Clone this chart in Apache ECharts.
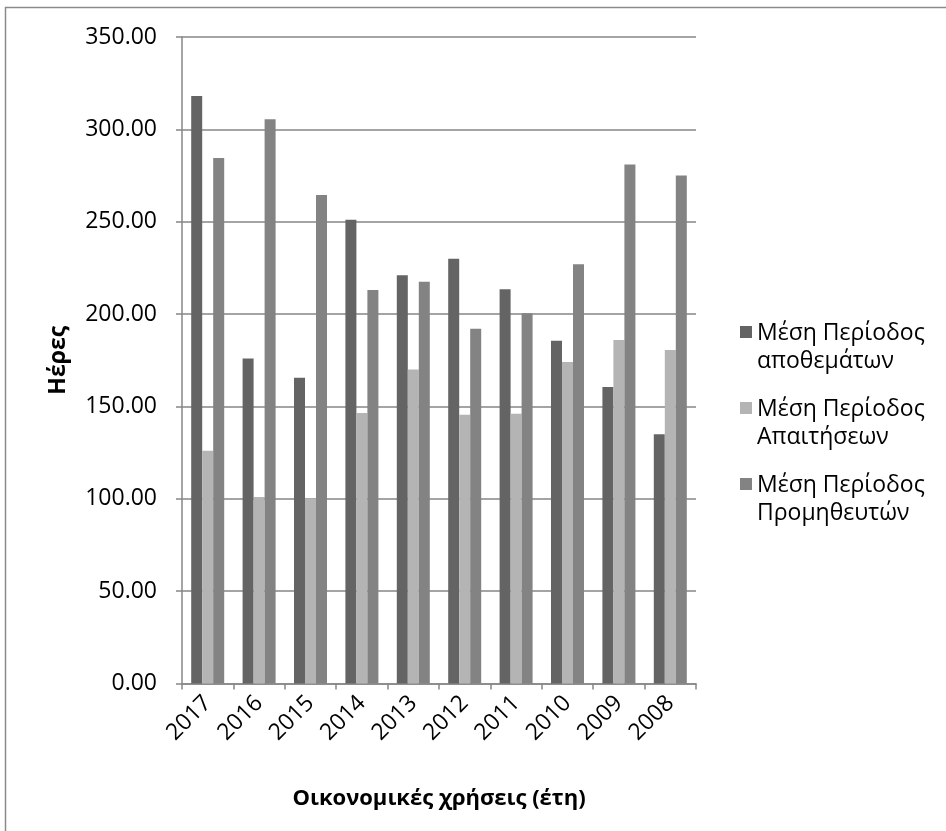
<!DOCTYPE html>
<html>
<head>
<meta charset="utf-8">
<script src="https://cdn.jsdelivr.net/npm/echarts@6/dist/echarts.min.js"></script>
<style>
  html, body { margin: 0; padding: 0; background: #fff; }
  #chart { width: 946px; height: 831px; }
</style>
</head>
<body>
<div id="chart"></div>
<script>
// Fiscal years shown left to right
const years = ['2017', '2016', '2015', '2014', '2013', '2012', '2011', '2010', '2009', '2008'];

// Average periods in days
const inventoryDays   = [318, 176, 165.5, 251, 221, 230, 213.5, 185.5, 160.5, 135];
const receivableDays  = [126, 101, 100, 146.5, 170, 145.5, 146, 174, 186, 180.5];
const payableDays     = [284.5, 305.5, 264.5, 213, 217.5, 192, 200.5, 227, 281, 275];

const seriesNames = [
  'Μέση Περίοδος\nαποθεμάτων',
  'Μέση Περίοδος\nΑπαιτήσεων',
  'Μέση Περίοδος\nΠρομηθευτών'
];
const seriesColors = ['#646464', '#b4b4b4', '#838383'];

const yTicks = { min: 0, max: 350, interval: 50 };

const FONT = '"Open Sans", "DejaVu Sans", sans-serif';
const AXIS_GREY = '#868686';

// Square legend marker sitting on the first line of a two-line label
const legendIcon = 'path://M0,0L12,0L12,12L0,12Z M0,42L0,42';

const chart = echarts.init(document.getElementById('chart'), null, { renderer: 'canvas' });

const seriesData = [inventoryDays, receivableDays, payableDays];

chart.setOption({
  backgroundColor: '#ffffff',
  animation: false,
  graphic: [{
    type: 'rect',
    shape: { x: 5.5, y: 7.5, width: 1000, height: 1000 },
    style: { fill: 'none', stroke: '#8a8a8a', lineWidth: 1.5 },
    silent: true
  }],
  grid: { left: 182, right: 250, top: 37, bottom: 147.5, containLabel: false },
  legend: {
    orient: 'vertical',
    left: 735,
    top: 314,
    itemWidth: 12,
    itemHeight: 42,
    itemGap: 20,
    icon: legendIcon,
    data: seriesNames,
    textStyle: { fontFamily: FONT, fontSize: 23, color: '#000', lineHeight: 28 },
    selectedMode: false
  },
  xAxis: {
    type: 'category',
    data: years,
    name: 'Οικονομικές χρήσεις (έτη)',
    nameLocation: 'middle',
    nameGap: 104,
    nameTextStyle: { fontFamily: FONT, fontSize: 22, fontWeight: 'bold', color: '#000' },
    axisLine: { lineStyle: { color: AXIS_GREY, width: 1.5 } },
    axisTick: { show: true, length: 6, lineStyle: { color: AXIS_GREY, width: 1.5 } },
    axisLabel: { rotate: 45, margin: 16, fontFamily: FONT, fontSize: 23, color: '#000' }
  },
  yAxis: {
    type: 'value',
    min: yTicks.min,
    max: yTicks.max,
    interval: yTicks.interval,
    name: 'Ηέρες',
    nameLocation: 'middle',
    nameGap: 112,
    nameRotate: 90,
    nameTextStyle: { fontFamily: FONT, fontSize: 23, fontWeight: 'bold', color: '#000' },
    axisLine: { show: true, lineStyle: { color: AXIS_GREY, width: 1.5 } },
    axisTick: { show: true, length: 6, lineStyle: { color: AXIS_GREY, width: 1.5 } },
    splitLine: { show: true, lineStyle: { color: AXIS_GREY, width: 1.5 } },
    axisLabel: {
      margin: 25,
      fontFamily: FONT,
      fontSize: 23,
      color: '#000',
      formatter: v => v.toFixed(2)
    }
  },
  series: seriesData.map((d, i) => ({
    name: seriesNames[i],
    type: 'bar',
    data: d,
    barWidth: 11,
    barGap: '0%',
    itemStyle: { color: seriesColors[i] }
  }))
});
</script>
</body>
</html>
